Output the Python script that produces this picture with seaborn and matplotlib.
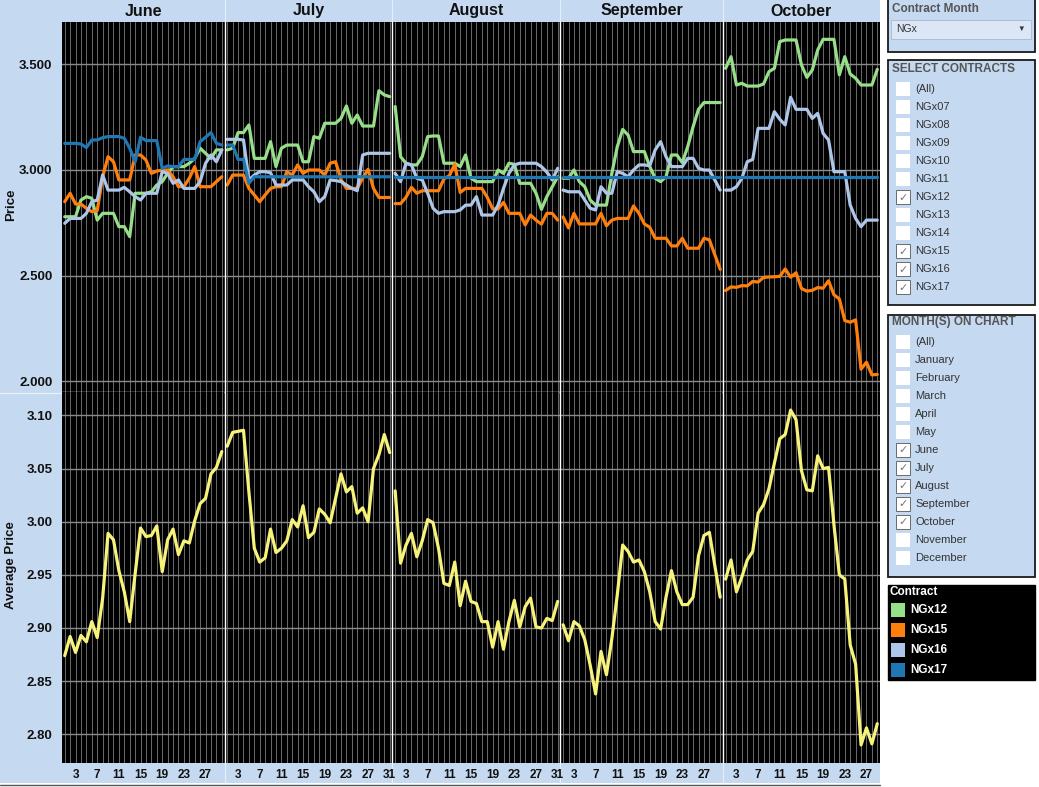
import numpy as np
import pandas as pd
import matplotlib
matplotlib.use('Agg')
import matplotlib.pyplot as plt
import seaborn as sns
from matplotlib.patches import Rectangle
from matplotlib.ticker import FormatStrFormatter

months = ['June', 'July', 'August', 'September', 'October']
month_days = [30, 31, 31, 30, 29]
contracts = ['NGx12', 'NGx15', 'NGx16', 'NGx17']
palette = {'NGx12': '#98df8a', 'NGx15': '#ff7f0e', 'NGx16': '#aec7e8', 'NGx17': '#1f77b4'}
avg_color = '#f6f27a'

# daily settle prices per contract, one list per month
ngx12_jun = [2.779, 2.779, 2.779, 2.858, 2.874, 2.866, 2.763, 2.795, 2.795, 2.795, 2.732, 2.732, 2.685, 2.890, 2.890,
             2.890, 2.897, 2.929, 2.945, 2.984, 3.016, 3.016, 3.016, 3.032, 3.055, 3.103, 3.079, 3.055, 3.095, 3.095]
ngx12_jul = [3.095, 3.103, 3.177, 3.177, 3.213, 3.055, 3.055, 3.055, 3.134, 3.016, 3.103, 3.118, 3.118, 3.118, 3.039,
             3.039, 3.158, 3.150, 3.221, 3.221, 3.221, 3.244, 3.303, 3.221, 3.260, 3.208, 3.208, 3.208, 3.375, 3.355, 3.347]
ngx12_aug = [3.300, 3.063, 3.032, 3.024, 3.024, 3.063, 3.158, 3.161, 3.161, 3.032, 3.032, 3.032, 3.016, 3.071, 2.961,
             2.945, 2.945, 2.945, 2.945, 3.000, 2.984, 3.032, 3.027, 2.937, 2.937, 2.937, 2.890, 2.814, 2.874, 2.921, 2.968]
ngx12_sep = [2.961, 2.961, 3.000, 2.945, 2.921, 2.858, 2.834, 2.834, 2.834, 2.984, 3.110, 3.192, 3.165, 3.087, 3.087,
             3.087, 3.016, 2.961, 2.945, 2.968, 3.071, 3.071, 3.035, 3.110, 3.205, 3.287, 3.319, 3.319, 3.319, 3.319]
ngx12_oct = [3.481, 3.536, 3.402, 3.410, 3.397, 3.397, 3.397, 3.407, 3.465, 3.481, 3.607, 3.615, 3.615, 3.615, 3.497,
             3.438, 3.473, 3.568, 3.618, 3.618, 3.618, 3.450, 3.536, 3.454, 3.434, 3.402, 3.402, 3.402, 3.476]

ngx15_jun = [2.850, 2.890, 2.839, 2.839, 2.819, 2.803, 2.808, 2.968, 3.063, 3.039, 2.953, 2.953, 2.953, 3.071, 3.071,
             3.047, 2.984, 2.995, 3.000, 3.000, 2.968, 2.921, 2.921, 2.961, 3.016, 2.921, 2.921, 2.921, 2.945, 2.968]
ngx15_jul = [2.929, 2.976, 2.976, 2.976, 2.913, 2.882, 2.850, 2.882, 2.913, 2.921, 2.921, 2.992, 2.976, 3.024, 2.984,
             3.000, 3.000, 3.000, 2.976, 3.032, 3.039, 2.955, 2.913, 2.913, 2.913, 2.961, 3.003, 2.913, 2.870, 2.870, 2.870]
ngx15_aug = [2.841, 2.841, 2.871, 2.918, 2.890, 2.902, 2.902, 2.902, 2.902, 2.958, 2.973, 3.028, 2.894, 2.913, 2.913,
             2.913, 2.913, 2.871, 2.816, 2.816, 2.847, 2.795, 2.795, 2.795, 2.740, 2.787, 2.763, 2.744, 2.795, 2.795, 2.763]
ngx15_sep = [2.778, 2.726, 2.795, 2.745, 2.745, 2.745, 2.745, 2.795, 2.736, 2.763, 2.771, 2.771, 2.771, 2.830, 2.795,
             2.745, 2.729, 2.677, 2.677, 2.677, 2.641, 2.641, 2.677, 2.630, 2.630, 2.630, 2.677, 2.670, 2.600, 2.530]
ngx15_oct = [2.430, 2.447, 2.445, 2.453, 2.452, 2.473, 2.470, 2.492, 2.494, 2.495, 2.497, 2.532, 2.493, 2.514, 2.440,
             2.427, 2.431, 2.444, 2.441, 2.476, 2.410, 2.390, 2.288, 2.280, 2.291, 2.058, 2.091, 2.031, 2.033]

ngx16_jun = [2.748, 2.771, 2.771, 2.771, 2.795, 2.850, 2.858, 2.976, 2.905, 2.905, 2.905, 2.918, 2.897, 2.874, 2.858,
             2.890, 2.890, 2.890, 2.992, 2.984, 2.937, 2.953, 2.913, 2.913, 2.913, 2.945, 3.032, 3.071, 3.039, 3.095]
ngx16_jul = [3.145, 3.145, 3.145, 3.142, 2.953, 2.976, 2.992, 2.992, 2.987, 2.929, 2.929, 2.929, 2.953, 2.953, 2.953,
             2.921, 2.897, 2.850, 2.874, 2.953, 2.950, 2.945, 2.929, 2.913, 2.902, 3.071, 3.079, 3.079, 3.079, 3.079, 3.079]
ngx16_aug = [2.984, 2.945, 3.032, 3.024, 2.961, 2.953, 2.890, 2.819, 2.795, 2.803, 2.803, 2.803, 2.811, 2.834, 2.834,
             2.874, 2.787, 2.787, 2.787, 2.834, 2.913, 2.984, 3.024, 3.032, 3.032, 3.032, 3.032, 3.016, 2.990, 2.953, 3.008]
ngx16_sep = [2.905, 2.897, 2.897, 2.897, 2.858, 2.819, 2.811, 2.921, 2.890, 2.890, 2.992, 2.984, 2.968, 3.000, 3.024,
             3.024, 3.020, 3.095, 3.134, 3.063, 3.016, 3.016, 3.016, 3.055, 3.055, 3.008, 3.000, 3.000, 2.953, 2.905]
ngx16_oct = [2.905, 2.905, 2.921, 2.961, 3.039, 3.050, 3.197, 3.197, 3.197, 3.276, 3.240, 3.213, 3.344, 3.287, 3.287,
             3.287, 3.244, 3.268, 3.173, 3.142, 2.992, 2.992, 2.992, 2.834, 2.771, 2.732, 2.763, 2.763, 2.763]

ngx17_jun = [3.126, 3.126, 3.126, 3.123, 3.106, 3.142, 3.142, 3.153, 3.158, 3.158, 3.158, 3.150, 3.103, 3.039, 3.155,
             3.139, 3.139, 3.139, 3.008, 3.019, 3.016, 3.016, 3.050, 3.050, 3.050, 3.134, 3.155, 3.177, 3.126, 3.118]
ngx17_jul = [3.118, 3.118, 3.050, 3.050, 2.937, 2.968, 2.968, 2.968, 2.968, 2.968, 2.968, 2.968, 2.968, 2.968, 2.968,
             2.968, 2.968, 2.968, 2.968, 2.968, 2.968, 2.968, 2.968, 2.968, 2.968, 2.968, 2.968, 2.968, 2.968, 2.968, 2.968]
ngx17_aug = [2.968, 2.968, 2.968, 2.968, 2.968, 2.968, 2.968, 2.968, 2.968, 2.968, 2.968, 2.968, 2.968, 2.968, 2.968,
             2.968, 2.968, 2.968, 2.968, 2.968, 2.968, 2.968, 2.968, 2.968, 2.968, 2.968, 2.968, 2.968, 2.968, 2.968, 2.968]
ngx17_sep = [2.968, 2.968, 2.968, 2.968, 2.968, 2.968, 2.968, 2.968, 2.968, 2.968, 2.968, 2.968, 2.968, 2.968, 2.968,
             2.968, 2.968, 2.968, 2.968, 2.968, 2.968, 2.968, 2.968, 2.968, 2.968, 2.968, 2.968, 2.968, 2.968, 2.968]
ngx17_oct = [2.968, 2.968, 2.968, 2.968, 2.968, 2.968, 2.968, 2.968, 2.968, 2.968, 2.968, 2.968, 2.968, 2.968, 2.968,
             2.968, 2.968, 2.968, 2.968, 2.968, 2.968, 2.968, 2.968, 2.968, 2.968, 2.968, 2.968, 2.968, 2.968]

avg_jun = [2.874, 2.892, 2.877, 2.893, 2.887, 2.906, 2.891, 2.928, 2.989, 2.983, 2.954, 2.934, 2.906, 2.951, 2.994,
           2.986, 2.987, 2.996, 2.953, 2.983, 2.993, 2.969, 2.982, 2.980, 3.001, 3.017, 3.022, 3.045, 3.051, 3.066]
avg_jul = [3.071, 3.084, 3.085, 3.086, 3.028, 2.975, 2.962, 2.966, 2.993, 2.971, 2.975, 2.982, 3.002, 2.995, 3.015,
           2.985, 2.990, 3.012, 3.007, 2.999, 3.022, 3.045, 3.028, 3.033, 3.008, 3.013, 3.000, 3.050, 3.063, 3.082, 3.065]
avg_aug = [3.029, 2.961, 2.978, 2.989, 2.967, 2.982, 3.002, 2.999, 2.975, 2.942, 2.940, 2.962, 2.921, 2.944, 2.925,
           2.923, 2.906, 2.906, 2.882, 2.906, 2.880, 2.906, 2.926, 2.901, 2.920, 2.928, 2.901, 2.900, 2.909, 2.907, 2.925]
avg_sep = [2.903, 2.888, 2.906, 2.902, 2.889, 2.865, 2.838, 2.878, 2.856, 2.890, 2.931, 2.978, 2.972, 2.962, 2.964,
           2.953, 2.934, 2.906, 2.899, 2.929, 2.954, 2.934, 2.922, 2.922, 2.929, 2.968, 2.987, 2.990, 2.959, 2.929]
avg_oct = [2.946, 2.964, 2.934, 2.948, 2.964, 2.972, 3.008, 3.016, 3.031, 3.055, 3.078, 3.082, 3.105, 3.096, 3.048,
           3.030, 3.029, 3.062, 3.050, 3.051, 2.997, 2.950, 2.946, 2.884, 2.866, 2.790, 2.806, 2.791, 2.810]

ngx12 = [ngx12_jun, ngx12_jul, ngx12_aug, ngx12_sep, ngx12_oct]
ngx15 = [ngx15_jun, ngx15_jul, ngx15_aug, ngx15_sep, ngx15_oct]
ngx16 = [ngx16_jun, ngx16_jul, ngx16_aug, ngx16_sep, ngx16_oct]
ngx17 = [ngx17_jun, ngx17_jul, ngx17_aug, ngx17_sep, ngx17_oct]
avg = [avg_jun, avg_jul, avg_aug, avg_sep, avg_oct]

rows = []
for mi, m in enumerate(months):
    for c, series in zip(contracts, (ngx12, ngx15, ngx16, ngx17)):
        for d, v in enumerate(series[mi], start=1):
            rows.append((m, d, c, v))
df = pd.DataFrame(rows, columns=['month', 'day', 'contract', 'price'])
avg_df = pd.DataFrame([(m, d, v) for mi, m in enumerate(months) for d, v in enumerate(avg[mi], start=1)],
                      columns=['month', 'day', 'avg'])

sns.set_theme(style='white')
plt.rcParams['font.family'] = ['Liberation Sans', 'DejaVu Sans']

W, H = 1039, 787
LB = '#c5d9f1'
fig = plt.figure(figsize=(W / 100, H / 100), dpi=100)
fig.patch.set_facecolor('white')

# background layer in pixel coords
bg = fig.add_axes([0, 0, 1, 1], zorder=-1)
bg.set_xlim(0, W)
bg.set_ylim(H, 0)
bg.axis('off')
bg.add_patch(Rectangle((0, 0), 880, 783, fc=LB, ec='none'))
bg.plot([0, 880], [784.5, 784.5], color='#555555', lw=1)
bg.plot([0, 62], [392.5, 392.5], color='#eef3fa', lw=0.8)

bounds = [62]
for n in month_days:
    bounds.append(bounds[-1] + n * 818 / 151)
for i, m in enumerate(months):
    bg.text((bounds[i] + bounds[i + 1]) / 2, 11, m, ha='center', va='center', fontsize=11.5,
            fontweight='bold', color='#111111')
for b in bounds[1:-1]:
    bg.plot([b, b], [0, 22], color='#e6eefa', lw=0.8)
    bg.plot([b, b], [763, 783], color='#e6eefa', lw=0.8)
bg.text(11, 205, 'Price', rotation=90, ha='center', va='center', fontsize=9.5, fontweight='bold', color='#111111')
bg.text(11, 565, 'Average Price', rotation=90, ha='center', va='center', fontsize=9.5, fontweight='bold',
        color='#111111')

gs = fig.add_gridspec(2, 5, left=62 / W, right=880 / W, top=1 - 22 / H, bottom=1 - 763 / H,
                      hspace=0, wspace=0, width_ratios=month_days, height_ratios=[370, 371])

for mi, m in enumerate(months):
    n = month_days[mi]
    ax1 = fig.add_subplot(gs[0, mi])
    ax2 = fig.add_subplot(gs[1, mi])
    sns.lineplot(data=df[df['month'] == m], x='day', y='price', hue='contract', hue_order=contracts,
                 palette=palette, lw=2.3, legend=False, ax=ax1, solid_joinstyle='round', solid_capstyle='round')
    sns.lineplot(data=avg_df[avg_df['month'] == m], x='day', y='avg', color=avg_color, lw=2.3, ax=ax2,
                 solid_joinstyle='round', solid_capstyle='round')
    for ax, lim, fmt, ticks in ((ax1, (1.95, 3.70), '%.3f', [2.0, 2.5, 3.0, 3.5]),
                                (ax2, (2.773, 3.122), '%.2f', [2.80, 2.85, 2.90, 2.95, 3.00, 3.05, 3.10])):
        ax.set_facecolor('black')
        ax.set_xlim(0.5, n + 0.5)
        ax.set_ylim(*lim)
        ax.set_yticks(ticks)
        ax.yaxis.set_major_formatter(FormatStrFormatter(fmt))
        ax.set_xticks([d for d in range(3, n + 1, 4)])
        ax.set_xticks(range(1, n + 1), minor=True)
        ax.set_axisbelow(True)
        ax.grid(False)
        ax.xaxis.grid(True, which='both', color='#7a7a7a', lw=0.6)
        ax.yaxis.grid(True, which='major', color='#8a8a8a', lw=1.0)
        ax.tick_params(which='both', length=0, labelsize=8.5, labelcolor='#111111', pad=4)
        ax.tick_params(axis='y', labelsize=9.5, length=4, color='#9a9a9a', width=0.8, pad=3)
        ax.set_xlabel('')
        ax.set_ylabel('')
        for s in ax.spines.values():
            s.set_visible(False)
        if mi > 0:
            ax.spines['left'].set_visible(True)
            ax.spines['left'].set_color('white')
            ax.spines['left'].set_linewidth(1.0)
            ax.tick_params(labelleft=False, left=False)
        for lab in ax.get_xticklabels() + ax.get_yticklabels():
            lab.set_fontweight('bold')
    ax1.tick_params(labelbottom=False)
    ax1.spines['bottom'].set_visible(True)
    ax1.spines['bottom'].set_color('white')
    ax1.spines['bottom'].set_linewidth(1.0)

# right-hand filter panels
def box(y0, y1, fc=LB):
    bg.add_patch(Rectangle((888, y0), 147, y1 - y0, fc=fc, ec='#1a1a1a', lw=1.3))

box(-2, 52)
bg.text(892, 9, 'Contract Month', ha='left', va='center', fontsize=8.5, fontweight='bold', color='#555555')
bg.add_patch(Rectangle((891, 20), 140, 19, fc='#dbe7f6', ec='#a9b9cd', lw=0.6))
bg.text(896, 29.5, 'NGx', ha='left', va='center', fontsize=7.5, color='#333333')
bg.text(1021, 29.5, '\u25bc', ha='center', va='center', fontsize=5.5, color='#333333')

contract_items = ['(All)', 'NGx07', 'NGx08', 'NGx09', 'NGx10', 'NGx11', 'NGx12', 'NGx13', 'NGx14',
                  'NGx15', 'NGx16', 'NGx17']
contract_checked = [False, False, False, False, False, False, True, False, False, True, True, True]
month_items = ['(All)', 'January', 'February', 'March', 'April', 'May', 'June', 'July', 'August',
               'September', 'October', 'November', 'December']
month_checked = [False, False, False, False, False, False, True, True, True, True, True, False, False]


def checklist(title, title_y, items, checked, first_y):
    bg.text(892, title_y, title, ha='left', va='center', fontsize=8.5, fontweight='bold', color='#555555')
    for i, (it, ck) in enumerate(zip(items, checked)):
        y = first_y + 18 * i
        bg.add_patch(Rectangle((896, y - 7), 14, 14, fc='white', ec='#6a6a6a' if ck else 'none', lw=0.7))
        if ck:
            bg.text(903, y + 0.5, '\u2713', ha='center', va='center', fontsize=8, color='#777777')
        bg.text(915, y, it, ha='left', va='center', fontsize=8, color='#333333')


box(60, 305)
checklist('SELECT CONTRACTS', 69, contract_items, contract_checked, 89)
box(315, 577)
checklist('MONTH(S) ON CHART', 322, month_items, month_checked, 342)

bg.add_patch(Rectangle((888, 585), 147, 95, fc='black', ec='black', lw=1))
bg.text(889, 592, 'Contract', ha='left', va='center', fontsize=8.5, fontweight='bold', color='white')
for i, c in enumerate(contracts):
    y = 610 + 20 * i
    bg.add_patch(Rectangle((891, y - 7), 14, 14, fc=palette[c], ec='none'))
    bg.text(910, y, c, ha='left', va='center', fontsize=8.5, fontweight='bold', color='white')

plt.savefig('out.png', dpi=100, facecolor=fig.get_facecolor())
